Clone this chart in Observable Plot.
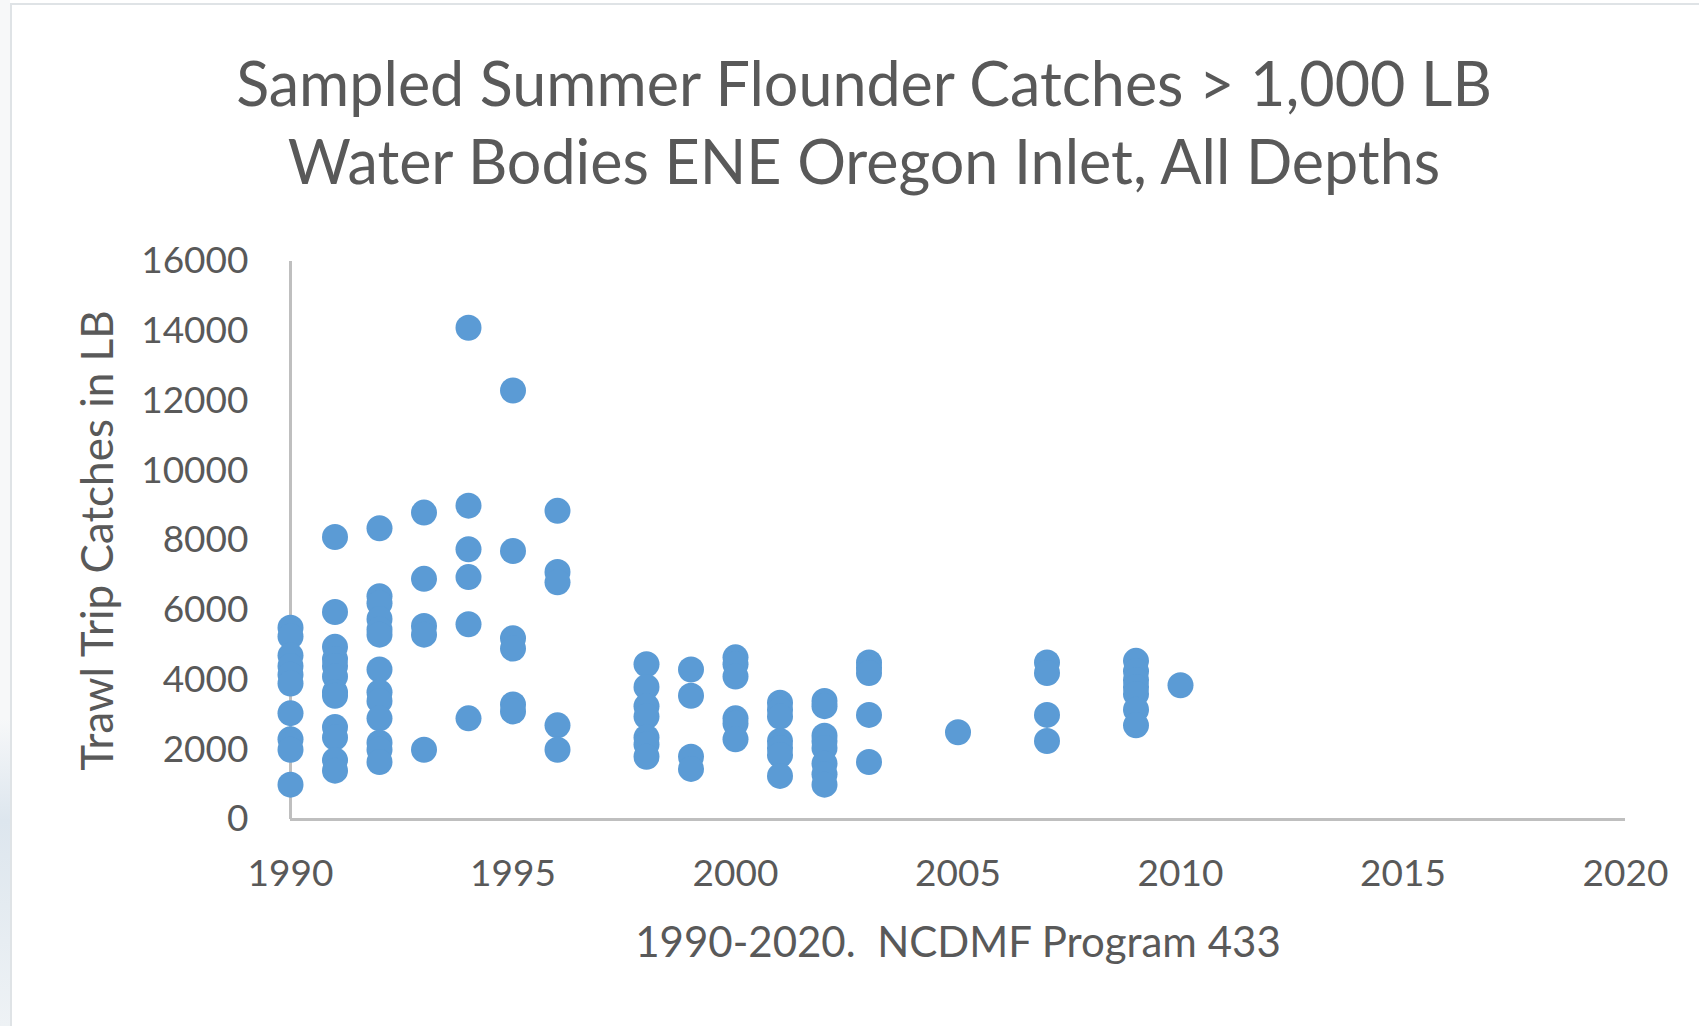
<!DOCTYPE html>
<html>
<head>
<meta charset="utf-8">
<script src="https://cdn.jsdelivr.net/npm/d3@7"></script>
<script src="https://cdn.jsdelivr.net/npm/@observablehq/plot@0.6"></script>
<style>
html, body { margin: 0; padding: 0; background: #fff; }
#page { position: relative; width: 1699px; height: 1026px; overflow: hidden; font-family: Lato, sans-serif; background: #fff; }
#strip { position: absolute; left: 0; top: 0; width: 10px; height: 1026px; background: linear-gradient(#f7f8f9 0%, #f7f8f9 70%, #dde6ee 80%, #eef2f5 100%); }
#frame { position: absolute; left: 10px; top: 3px; right: 0; bottom: 0; border-left: 2px solid #dfe3e6; border-top: 2px solid #dfe3e6; }
.title { position: absolute; left: 0; width: 1728px; text-align: center; color: #595959; font-size: 61px; line-height: 1; white-space: nowrap; }
#t1 { top: 52px; }
#t2 { top: 130px; }
#chart { position: absolute; left: 0; top: 220px; }
</style>
</head>
<body>
<div id="page">
  <div id="strip"></div>
  <div id="frame"></div>
  <div class="title" id="t1">Sampled Summer Flounder Catches &gt; 1,000 LB</div>
  <div class="title" id="t2">Water Bodies ENE Oregon Inlet, All Depths</div>
  <div id="chart"></div>
</div>
<script>
// Sampled years and the trip catches (LB) read for each year
const years = [1990, 1991, 1992, 1993, 1994, 1995, 1996, 1998, 1999, 2000, 2001, 2002, 2003, 2005, 2007, 2009, 2010];
const catchesByYear = [
  [5500, 5250, 4700, 4400, 4150, 3900, 3050, 2300, 2000, 1000],
  [8100, 5950, 4950, 4600, 4400, 4100, 3650, 3550, 2650, 2350, 1700, 1400],
  [8350, 6400, 6200, 5750, 5450, 5300, 4300, 3650, 3400, 2900, 2200, 2000, 1650],
  [8800, 6900, 5550, 5300, 2000],
  [14100, 9000, 7750, 6950, 5600, 2900],
  [12300, 7700, 5200, 4900, 3300, 3100],
  [8850, 7100, 6800, 2700, 2000],
  [4450, 3800, 3250, 2950, 2350, 2150, 1800],
  [4300, 3550, 1800, 1450],
  [4650, 4450, 4100, 2900, 2750, 2300],
  [3350, 3150, 2950, 2250, 2050, 1850, 1250],
  [3400, 3250, 2400, 2250, 2050, 1600, 1300, 1000],
  [4500, 4350, 4200, 3000, 1650],
  [2500],
  [4500, 4200, 3000, 2250],
  [4550, 4250, 4000, 3800, 3600, 3150, 2700],
  [3850]
];
const xTicks = [1990, 1995, 2000, 2005, 2010, 2015, 2020];
const yTicks = [0, 2000, 4000, 6000, 8000, 10000, 12000, 14000, 16000];
const xLabel = "1990-2020.\u00a0 NCDMF Program 433";
const yLabel = "Trawl Trip Catches in LB";

const data = years.flatMap((yr, i) => catchesByYear[i].map(v => ({year: yr, lb: v})));

const chart = Plot.plot({
  width: 1699,
  height: 780,
  marginLeft: 290,
  marginRight: 74,
  marginTop: 41,
  marginBottom: 181,
  style: { fontFamily: "Lato, sans-serif", fontSize: "34px", color: "#595959", background: "transparent", overflow: "visible" },
  x: { domain: [1990, 2020] },
  y: { domain: [0, 16000] },
  marks: [
    Plot.ruleY([0], { stroke: "#BFBFBF", strokeWidth: 3 }),
    Plot.ruleX([1990], { stroke: "#BFBFBF", strokeWidth: 3 }),
    Plot.axisX({ ticks: xTicks, tickFormat: "d", tickSize: 0, tickPadding: 40, label: null, fontSize: 37 }),
    Plot.axisX({ ticks: [], tickSize: 0, label: xLabel, labelAnchor: "center", labelOffset: 137, labelArrow: "none", fontSize: 42 }),
    Plot.axisY({ ticks: yTicks, tickFormat: "d", tickSize: 0, tickPadding: 42, label: null, fontSize: 37 }),
    Plot.axisY({ ticks: [], tickSize: 0, label: yLabel, labelAnchor: "center", labelOffset: 209, labelArrow: "none", fontSize: 44 }),
    Plot.dot(data, { x: "year", y: "lb", r: 13, fill: "#5B9BD5", stroke: "none" })
  ]
});
document.getElementById("chart").appendChild(chart);
</script>
</body>
</html>
